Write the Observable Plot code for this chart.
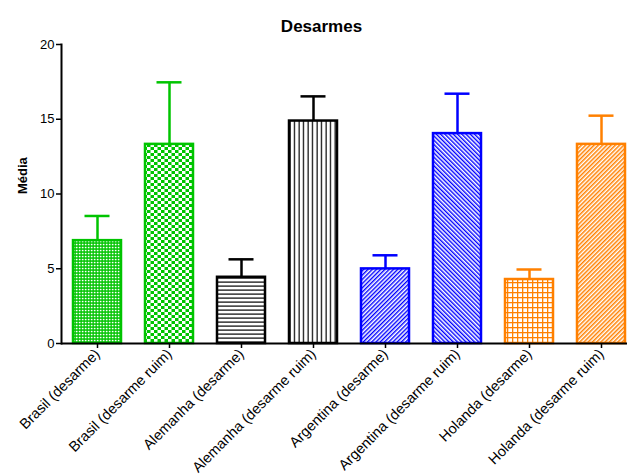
<!DOCTYPE html>
<html>
<head>
<meta charset="utf-8">
<script src="https://cdn.jsdelivr.net/npm/d3@7"></script>
<script src="https://cdn.jsdelivr.net/npm/@observablehq/plot@0.6"></script>
<style>
  body { margin: 0; background: #fff; }
  #chart svg { display: block; }
</style>
</head>
<body>
<div id="chart"></div>
<script>
const categories = [
  "Brasil (desarme)", "Brasil (desarme ruim)",
  "Alemanha (desarme)", "Alemanha (desarme ruim)",
  "Argentina (desarme)", "Argentina (desarme ruim)",
  "Holanda (desarme)", "Holanda (desarme ruim)"
];
const medias = [6.88, 13.32, 4.43, 14.88, 4.99, 14.04, 4.28, 13.32];
const erros  = [1.65, 4.15, 1.20, 1.65, 0.91, 2.67, 0.67, 1.92];
const cores  = ["#00c400", "#00c400", "#000000", "#000000", "#0000ff", "#0000ff", "#ff8000", "#ff8000"];
const padroes = ["p0", "p1", "p2", "p3", "p4", "p5", "p6", "p7"];
const yTicks = [0, 5, 10, 15, 20];
const titulo = "Desarmes";
const rotuloY = "Média";

const data = categories.map((c, i) => ({
  cat: c, media: medias[i], topo: medias[i] + erros[i], cor: cores[i], fill: `url(#${padroes[i]})`
}));

const W = 627, H = 475;
const chart = Plot.plot({
  width: W, height: H,
  marginLeft: 61, marginRight: 0, marginTop: 44, marginBottom: 132,
  style: { fontFamily: "Liberation Sans, Arial, sans-serif", fontSize: "12px", color: "#000", background: "#fff" },
  x: { domain: categories, range: [61, 637], paddingInner: 1/3, paddingOuter: 1/6, axis: null },
  y: { domain: [0, 20], axis: null },
  marks: [
    Plot.barY(data, { x: "cat", y: "media", fill: "fill", stroke: "cor", strokeWidth: 2.5 }),
    Plot.ruleX(data, { x: "cat", y1: "media", y2: "topo", stroke: "cor", strokeWidth: 2.5 }),
    Plot.tickY(data, { x: "cat", y: "topo", stroke: "cor", strokeWidth: 2.5, insetLeft: 11.5, insetRight: 11.5 }),
    Plot.axisY({ ticks: yTicks, tickSize: 5, tickPadding: 2, strokeWidth: 1.5, fontSize: 13, label: null }),
    Plot.axisX({ tickSize: 5, tickPadding: 3, tickRotate: -45, strokeWidth: 1.5, fontSize: 14.5, label: null }),
    Plot.ruleY([0], { strokeWidth: 2 }),
    Plot.frame({ anchor: "left", strokeWidth: 2 }),
    Plot.text([titulo], { frameAnchor: "top", dx: -23, dy: -25, fontSize: 17, fontWeight: "bold" }),
    Plot.text([rotuloY], { frameAnchor: "left", dx: -39, rotate: -90, fontSize: 13, fontWeight: "bold" })
  ]
});

const defs = `
<defs>
  <pattern id="p0" patternUnits="userSpaceOnUse" width="3" height="3">
    <rect width="3" height="3" fill="#00c400"/>
    <rect x="0.8" y="0.8" width="1.7" height="1.5" fill="#fff"/>
  </pattern>
  <pattern id="p1" patternUnits="userSpaceOnUse" width="7" height="6">
    <rect width="7" height="6" fill="#fff"/>
    <rect x="0" y="0" width="3.5" height="3" fill="#00c400"/>
    <rect x="3.5" y="3" width="3.5" height="3" fill="#00c400"/>
  </pattern>
  <pattern id="p2" patternUnits="userSpaceOnUse" width="4" height="4">
    <rect width="4" height="4" fill="#fff"/>
    <rect x="0" y="1.5" width="4" height="1.2" fill="#000"/>
  </pattern>
  <pattern id="p3" patternUnits="userSpaceOnUse" width="4.5" height="4">
    <rect width="4.5" height="4" fill="#fff"/>
    <rect x="1.5" y="0" width="1.2" height="4" fill="#000"/>
  </pattern>
  <pattern id="p4" patternUnits="userSpaceOnUse" width="3" height="3" patternTransform="rotate(45)">
    <rect width="3" height="3" fill="#fff"/>
    <rect x="0" y="0" width="1.4" height="3" fill="#0000ff"/>
  </pattern>
  <pattern id="p5" patternUnits="userSpaceOnUse" width="3" height="3" patternTransform="rotate(-45)">
    <rect width="3" height="3" fill="#fff"/>
    <rect x="0" y="0" width="1.4" height="3" fill="#0000ff"/>
  </pattern>
  <pattern id="p6" patternUnits="userSpaceOnUse" width="5" height="5">
    <rect width="5" height="5" fill="#fff"/>
    <rect x="0" y="2" width="5" height="1.3" fill="#ff8000"/>
    <rect x="2" y="0" width="1.3" height="5" fill="#ff8000"/>
  </pattern>
  <pattern id="p7" patternUnits="userSpaceOnUse" width="3" height="3" patternTransform="rotate(45)">
    <rect width="3" height="3" fill="#fff"/>
    <rect x="0" y="0" width="1.5" height="3" fill="#ff8000"/>
  </pattern>
</defs>`;
chart.insertAdjacentHTML("afterbegin", defs);
document.getElementById("chart").appendChild(chart);
</script>
</body>
</html>
